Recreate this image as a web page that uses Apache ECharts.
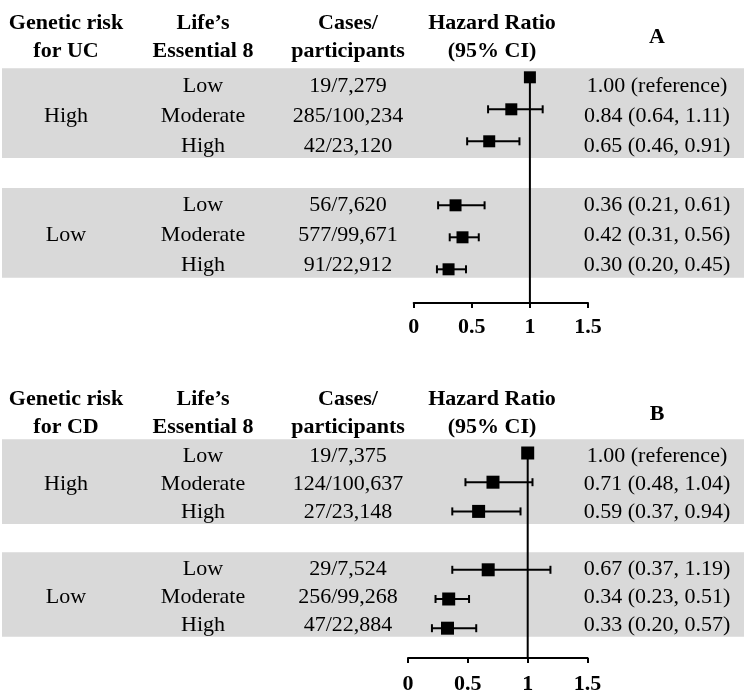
<!DOCTYPE html>
<html><head><meta charset="utf-8">
<script src="https://cdn.jsdelivr.net/npm/echarts@6/dist/echarts.min.js"></script>
<style>html,body{margin:0;padding:0;background:#fff}#c{width:744px;height:700px}</style>
</head><body><div id="c"></div>
<script>
// ---------- data ----------
const le8Levels = ['Low', 'Moderate', 'High'];
const geneticGroups = ['High', 'Low'];
const panelLetters = ['A', 'B'];
const headersA = [['Genetic risk', 'for UC'], ['Life\u2019s', 'Essential 8'], ['Cases/', 'participants'], ['Hazard Ratio', '(95% CI)']];
const headersB = [['Genetic risk', 'for CD'], ['Life\u2019s', 'Essential 8'], ['Cases/', 'participants'], ['Hazard Ratio', '(95% CI)']];

const casesA = ['19/7,279', '285/100,234', '42/23,120', '56/7,620', '577/99,671', '91/22,912'];
const hrA    = [1.00, 0.84, 0.65, 0.36, 0.42, 0.30];
const lowA   = [null, 0.64, 0.46, 0.21, 0.31, 0.20];
const highA  = [null, 1.11, 0.91, 0.61, 0.56, 0.45];

const casesB = ['19/7,375', '124/100,637', '27/23,148', '29/7,524', '256/99,268', '47/22,884'];
const hrB    = [1.00, 0.71, 0.59, 0.67, 0.34, 0.33];
const lowB   = [null, 0.48, 0.37, 0.37, 0.23, 0.20];
const highB  = [null, 1.04, 0.94, 1.19, 0.51, 0.57];

const xTicks = [0, 0.5, 1, 1.5];

// ---------- layout (pixels) ----------
const FONT = '"Liberation Serif", "Times New Roman", serif';
const colX = [66, 203, 348, 492, 657];
const layouts = [
  { tRow0: 86, tStep: 29.9, fRow0: 77.3, fStep: 32, axisY: 303, x0: 413.7, unit: 116.2, sq: 12, hdr: [-2.10, -1.15], letter: -1.62, margin: 13 },
  { tRow0: 456, tStep: 28.2, fRow0: 453, fStep: 29.2, axisY: 658, x0: 408, unit: 119.7, sq: 13, hdr: [-2.02, -1.03], letter: -1.49, margin: 15 }
];
const panels = [
  { headers: headersA, cases: casesA, hr: hrA, lo: lowA, hi: highA },
  { headers: headersB, cases: casesB, hr: hrB, lo: lowB, hi: highB }
];

const tMin = -2.7, tMax = 7.3, fMin = -0.5;
const grids = [], xAxes = [], yAxes = [], series = [];

function fmt(v) { return v.toFixed(2); }

panels.forEach((P, pi) => {
  const L = layouts[pi];
  // table grid (full width)
  const tTop = L.tRow0 + tMin * L.tStep;
  grids.push({ left: 0, top: tTop, width: 744, height: (tMax - tMin) * L.tStep, containLabel: false, outerBoundsMode: 'none' });
  const tg = grids.length - 1;
  xAxes.push({ gridIndex: tg, type: 'value', min: 0, max: 744, show: false });
  yAxes.push({ gridIndex: tg, type: 'value', min: tMin, max: tMax, inverse: true, show: false });
  // forest grid
  const fMax = (L.axisY - L.fRow0) / L.fStep;
  const fTop = L.fRow0 + fMin * L.fStep;
  grids.push({ left: L.x0, top: fTop, width: 1.5 * L.unit, height: L.axisY - fTop, containLabel: false, outerBoundsMode: 'none' });
  const fg = grids.length - 1;
  xAxes.push({
    gridIndex: fg, type: 'value', min: xTicks[0], max: xTicks[xTicks.length - 1], interval: xTicks[1] - xTicks[0],
    axisLine: { show: true, onZero: false, lineStyle: { color: '#000', width: 2 } },
    axisTick: { show: true, length: 5, lineStyle: { color: '#000', width: 2 } },
    splitLine: { show: false },
    axisLabel: { margin: L.margin, color: '#000', fontFamily: FONT, fontWeight: 'bold', fontSize: 22,
      formatter: v => String(v) }
  });
  yAxes.push({ gridIndex: fg, type: 'value', min: fMin, max: fMax, inverse: true, show: false });

  // rows
  const rows = [];
  geneticGroups.forEach((g, gi) => le8Levels.forEach((l, li) => rows.push(gi * 4 + li)));

  // bands
  const bands = geneticGroups.map((g, gi) => [gi * 4 - 0.59, gi * 4 + 2.41]);
  series.push({
    type: 'custom', xAxisIndex: tg, yAxisIndex: tg, silent: true, z: 1,
    data: bands,
    renderItem: (params, api) => {
      const a = api.coord([2, api.value(0)]);
      const b = api.coord([744, api.value(1)]);
      return { type: 'rect', shape: { x: a[0], y: a[1], width: b[0] - a[0], height: b[1] - a[1] }, style: { fill: '#d9d9d9' } };
    }
  });

  // texts
  const items = [];
  P.headers.forEach((h, ci) => {
    items.push({ x: colX[ci], y: L.hdr[0], t: h[0], b: true });
    items.push({ x: colX[ci], y: L.hdr[1], t: h[1], b: true });
  });
  items.push({ x: colX[4], y: L.letter, t: panelLetters[pi], b: true });
  geneticGroups.forEach((g, gi) => items.push({ x: colX[0], y: gi * 4 + 1, t: g, b: false }));
  rows.forEach((r, i) => {
    items.push({ x: colX[1], y: r, t: le8Levels[i % 3], b: false });
    items.push({ x: colX[2], y: r, t: P.cases[i], b: false });
    const txt = P.lo[i] == null ? fmt(P.hr[i]) + ' (reference)' : fmt(P.hr[i]) + ' (' + fmt(P.lo[i]) + ', ' + fmt(P.hi[i]) + ')';
    items.push({ x: colX[4], y: r, t: txt, b: false });
  });
  series.push({
    type: 'custom', xAxisIndex: tg, yAxisIndex: tg, silent: true, z: 3,
    data: items.map(it => [it.x, it.y]),
    renderItem: (params, api) => {
      const it = items[params.dataIndex];
      const p = api.coord([api.value(0), api.value(1)]);
      return { type: 'text', x: p[0], y: p[1], style: {
        text: it.t, fill: '#000', font: (it.b ? 'bold ' : '') + '22px ' + FONT,
        textAlign: 'center', textVerticalAlign: 'middle', align: 'center', verticalAlign: 'middle' } };
    }
  });

  // reference line at HR = 1
  series.push({
    type: 'custom', xAxisIndex: fg, yAxisIndex: fg, silent: true, z: 4,
    data: [[1, 0, fMax]],
    renderItem: (params, api) => {
      const a = api.coord([api.value(0), api.value(1)]);
      const b = api.coord([api.value(0), api.value(2)]);
      return { type: 'line', shape: { x1: a[0], y1: a[1], x2: b[0], y2: b[1] }, style: { stroke: '#000', lineWidth: 2 } };
    }
  });

  // estimates with CI
  series.push({
    type: 'custom', xAxisIndex: fg, yAxisIndex: fg, silent: true, z: 5,
    data: rows.map((r, i) => [P.hr[i], r, P.lo[i] == null ? '-' : P.lo[i], P.hi[i] == null ? '-' : P.hi[i]]),
    renderItem: (params, api) => {
      const c = api.coord([api.value(0), api.value(1)]);
      const s = L.sq;
      const children = [];
      const lo = api.value(2), hi = api.value(3);
      if (!isNaN(lo) && !isNaN(hi)) {
        const pl = api.coord([lo, api.value(1)]);
        const ph = api.coord([hi, api.value(1)]);
        const st = { stroke: '#000', lineWidth: 2 };
        children.push({ type: 'line', shape: { x1: pl[0], y1: c[1], x2: ph[0], y2: c[1] }, style: st });
        children.push({ type: 'line', shape: { x1: pl[0], y1: c[1] - 4, x2: pl[0], y2: c[1] + 4 }, style: st });
        children.push({ type: 'line', shape: { x1: ph[0], y1: c[1] - 4, x2: ph[0], y2: c[1] + 4 }, style: st });
      }
      children.push({ type: 'rect', shape: { x: c[0] - s / 2, y: c[1] - s / 2, width: s, height: s }, style: { fill: '#000' } });
      return { type: 'group', children };
    }
  });
});

const chart = echarts.init(document.getElementById('c'), null, { renderer: 'canvas' });
chart.setOption({ animation: false, backgroundColor: '#fff', grid: grids, xAxis: xAxes, yAxis: yAxes, series });
</script></body></html>
